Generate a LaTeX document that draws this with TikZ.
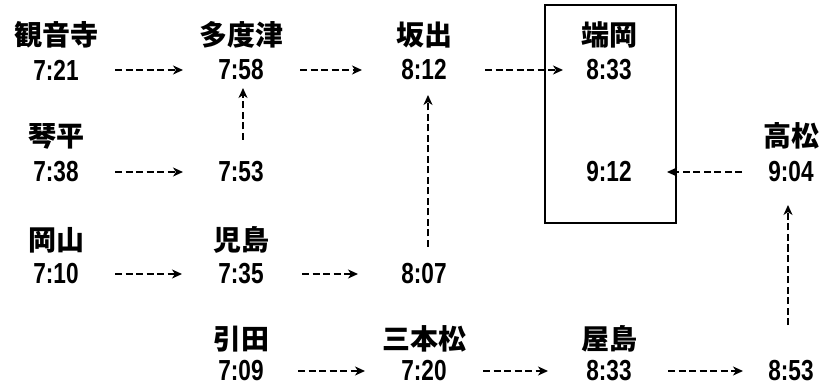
\documentclass[tikz,border=0pt]{standalone}
\usepackage{fontspec}
\setmainfont[FakeStretch=0.78]{Liberation Sans}
\newfontfamily\jfont{Noto Sans CJK JP}
\usetikzlibrary{arrows.meta}
\begin{document}
\begin{tikzpicture}[x=1pt,y=-1pt,
  stn/.style={inner sep=0pt,font=\jfont\bfseries\fontsize{28}{30}\selectfont},
  tm/.style={inner sep=0pt,font=\bfseries\fontsize{29}{31}\selectfont},
  conn/.style={line width=1.8pt,dash pattern=on 7pt off 3.5pt,-{Stealth[length=10pt,width=9pt,inset=3pt]}},
  frame/.style={draw,line width=1.8pt,minimum width=131pt,minimum height=218pt,inner sep=0pt}]
\useasboundingbox (0,0) rectangle (821,387);
% column 1
\node[stn] (n11) at (56,35) {観音寺};
\node[tm]  (t11) at (56,70) {7:21};
\node[stn] (n21) at (56,136) {琴平};
\node[tm]  (t21) at (56,172) {7:38};
\node[stn] (n31) at (56,240) {岡山};
\node[tm]  (t31) at (56,274) {7:10};
% column 2
\node[stn] (n12) at (241,35) {多度津};
\node[tm]  (t12) at (241,70) {7:58};
\node[tm]  (t22) at (241,172) {7:53};
\node[stn] (n32) at (241,240) {児島};
\node[tm]  (t32) at (241,274) {7:35};
\node[stn] (n42) at (241,339) {引田};
\node[tm]  (t42) at (241,371) {7:09};
% column 3
\node[stn] (n13) at (424,35) {坂出};
\node[tm]  (t13) at (424,70) {8:12};
\node[tm]  (t33) at (424,274) {8:07};
\node[stn] (n43) at (424,339) {三本松};
\node[tm]  (t43) at (424,371) {7:20};
% column 4
\node[frame] (box) at (610.5,114) {};
\node[stn] (n14) at (609,35) {端岡};
\node[tm]  (t14) at (609,70) {8:33};
\node[tm]  (t24) at (609,172) {9:12};
\node[stn] (n44) at (609,339) {屋島};
\node[tm]  (t44) at (609,371) {8:33};
% column 5
\node[stn] (n25) at (791,136) {高松};
\node[tm]  (t25) at (791,172) {9:04};
\node[tm]  (t45) at (791,371) {8:53};
% connectors
\draw[conn,shorten <=59pt,shorten >=58pt] (t11.center) -- (t12.center);
\draw[conn,shorten <=59pt,shorten >=62pt] (t12.center) -- (t13.center);
\draw[conn,shorten <=61pt,shorten >=46pt] (t13.center) -- (t14.center);
\draw[conn,shorten <=59pt,shorten >=58pt] (t21.center) -- (t22.center);
\draw[conn,shorten <=49pt,shorten >=58pt] (t25.center) -- (t24.center);
\draw[conn,shorten <=32pt,shorten >=18pt] ([xshift=2pt]t22.center) -- ([xshift=2pt]t12.center);
\draw[conn,shorten <=27pt,shorten >=25pt] ([xshift=4pt]t33.center) -- ([xshift=4pt]t13.center);
\draw[conn,shorten <=59pt,shorten >=59pt] (t31.center) -- (t32.center);
\draw[conn,shorten <=61pt,shorten >=66pt] (t32.center) -- (t33.center);
\draw[conn,shorten <=57pt,shorten >=59pt] (t42.center) -- (t43.center);
\draw[conn,shorten <=59pt,shorten >=61pt] (t43.center) -- (t44.center);
\draw[conn,shorten <=59pt,shorten >=48pt] (t44.center) -- (t45.center);
\draw[conn,shorten <=46pt,shorten >=33pt] ([xshift=-3pt]t45.center) -- ([xshift=-3pt]t25.center);
\end{tikzpicture}
\end{document}
